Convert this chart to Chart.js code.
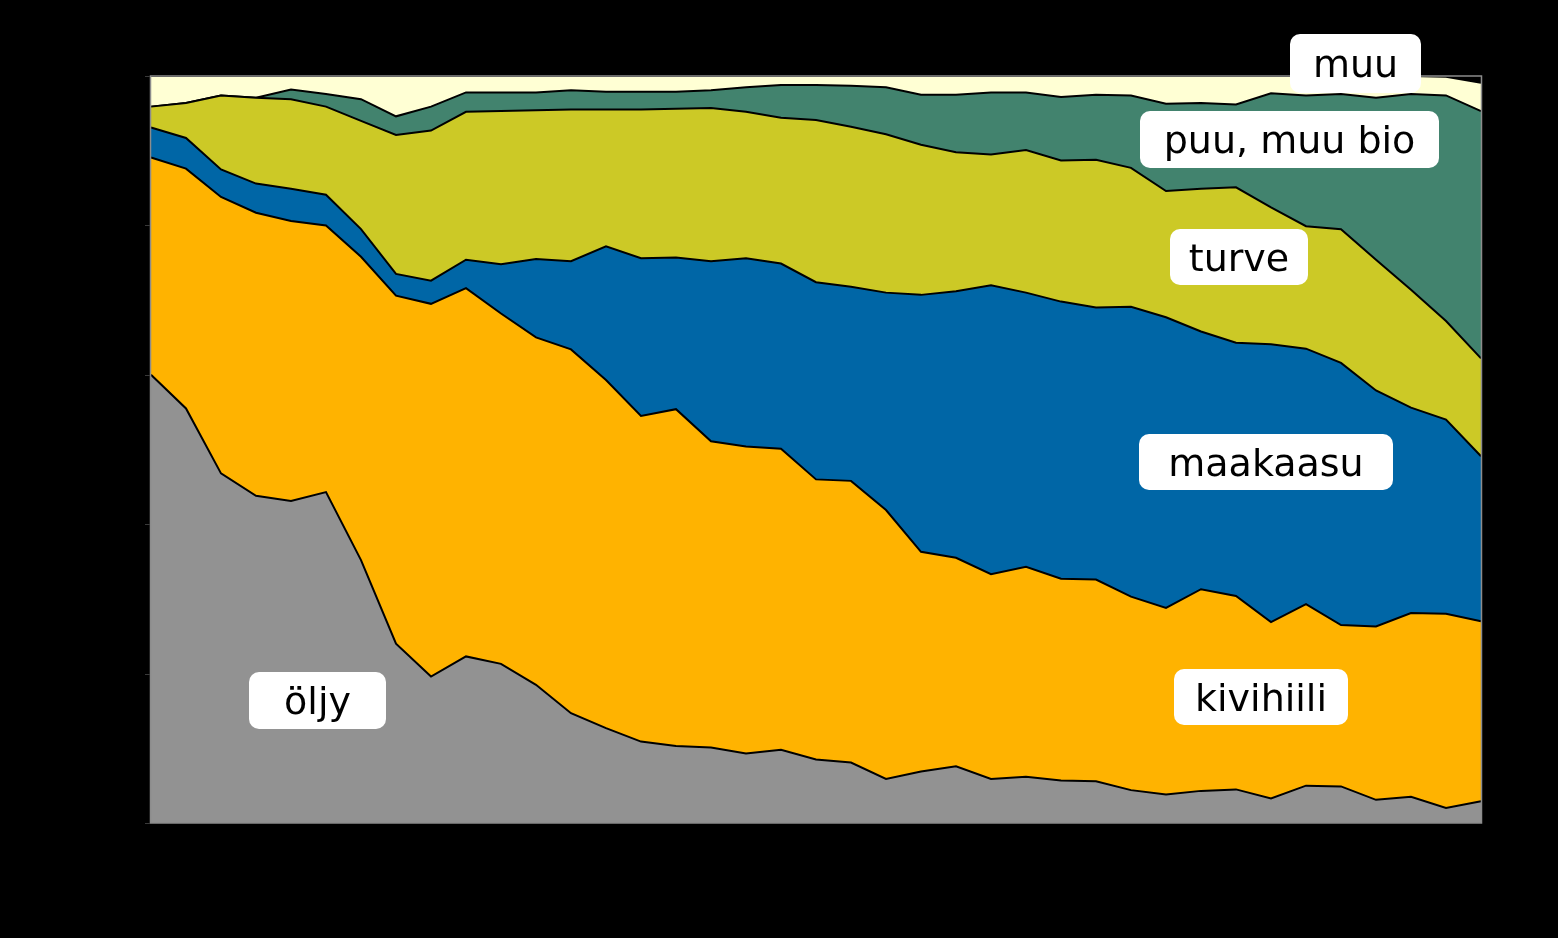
<!DOCTYPE html>
<html>
<head>
<meta charset="utf-8">
<script src="https://cdn.jsdelivr.net/npm/chart.js@4.4.1/dist/chart.umd.min.js"></script>
<style>
  html, body { margin: 0; padding: 0; background: #000; }
  #c { display: block; }
</style>
</head>
<body>
<canvas id="c" width="1558" height="938"></canvas>
<script>
// ---- data (shares, % of total) ----
const years = ['1970','1971','1972','1973','1974','1975','1976','1977','1978','1979',
               '1980','1981','1982','1983','1984','1985','1986','1987','1988','1989',
               '1990','1991','1992','1993','1994','1995','1996','1997','1998','1999',
               '2000','2001','2002','2003','2004','2005','2006','2007','2008'];
const oljy      = [60.0,55.5,46.8,43.8,43.1,44.3,35.2,24.0,19.6,22.3,21.3,18.5,14.7,12.7,10.9,10.3,10.1,9.3,9.8,8.5,8.1,5.9,6.9,7.6,5.9,6.2,5.7,5.6,4.4,3.8,4.3,4.5,3.3,5.0,4.9,3.1,3.5,2.0,2.9];
const kivihiili = [29.1,32.1,37.0,37.9,37.5,35.7,40.6,46.6,49.9,49.3,46.9,46.5,48.7,46.6,43.6,45.1,41.0,41.1,40.3,37.5,37.7,36.0,29.4,27.9,27.4,28.1,27.0,27.0,25.9,25.0,27.0,25.9,23.6,24.3,21.6,23.2,24.6,26.0,24.1];
const maakaasu  = [4.0,4.1,3.7,3.9,4.3,4.1,3.7,2.9,3.1,3.8,6.6,10.5,11.8,17.9,21.1,20.3,24.1,25.2,24.8,26.4,26.0,29.1,34.4,35.7,38.7,36.7,37.1,36.4,38.8,38.9,34.5,33.9,37.2,34.2,35.1,31.6,27.5,26.0,22.1];
const turve     = [2.8,4.7,9.9,11.5,12.0,11.8,14.5,18.6,20.1,19.8,20.5,19.9,20.3,18.3,19.9,19.9,20.5,19.6,19.5,21.7,21.4,21.2,20.1,18.6,17.5,19.1,18.9,19.8,18.6,16.9,19.1,20.8,18.3,16.4,17.9,17.5,15.8,13.2,13.1];
const puu       = [0,0,0,0,1.3,1.7,2.9,2.5,3.2,2.6,2.5,2.4,2.6,2.4,2.4,2.3,2.4,3.3,4.4,4.7,5.5,6.3,6.7,7.7,8.3,7.7,8.5,8.7,9.7,11.7,11.5,11.1,15.3,17.5,18.1,21.7,26.2,30.2,33.1];
const muu       = [4.1,3.6,2.6,2.9,1.8,2.4,3.1,5.4,4.1,2.2,2.2,2.2,1.9,2.1,2.1,2.1,1.9,1.5,1.2,1.2,1.3,1.5,2.5,2.5,2.2,2.2,2.8,2.5,2.6,3.7,3.6,3.8,2.3,2.6,2.4,2.9,2.4,2.5,3.8];
const yTicks    = [0, 20, 40, 60, 80, 100];

// ---- label boxes (text + box in canvas pixels) ----
const labels = [
  { text: 'muu',          x: 1290, y: 34,  w: 131, h: 59 },
  { text: 'puu, muu bio', x: 1140, y: 111, w: 299, h: 57 },
  { text: 'turve',        x: 1170, y: 229, w: 138, h: 56 },
  { text: 'maakaasu',     x: 1139, y: 434, w: 254, h: 56 },
  { text: 'kivihiili',    x: 1174, y: 669, w: 174, h: 56 },
  { text: 'öljy',         x: 249,  y: 672, w: 137, h: 57 }
];

function ds(label, data, color, fill) {
  return {
    label, data,
    backgroundColor: color,
    borderColor: '#000',
    borderWidth: 2,
    pointRadius: 0,
    tension: 0,
    fill: fill
  };
}

const frame = {
  id: 'frame',
  beforeDraw(chart) {
    const c = chart.ctx;
    c.save();
    c.fillStyle = '#000';
    c.fillRect(0, 0, chart.width, chart.height);
    c.restore();
  },
  afterDatasetsDraw(chart) {
    const c = chart.ctx, a = chart.chartArea, y = chart.scales.y;
    c.save();
    c.strokeStyle = '#8c8c8c';
    c.lineWidth = 1.5;
    c.strokeRect(a.left - 0.5, a.top, a.right - a.left + 1, a.bottom - a.top);
    c.strokeStyle = '#3a3a3a';
    c.lineWidth = 1;
    yTicks.forEach(v => {
      const py = Math.round(y.getPixelForValue(v)) + 0.5;
      c.beginPath();
      c.moveTo(a.left - 6, py);
      c.lineTo(a.left - 1, py);
      c.stroke();
    });
    c.restore();
  },
  afterDraw(chart) {
    const c = chart.ctx;
    c.save();
    c.font = '38px "DejaVu Sans"';
    c.textAlign = 'center';
    c.textBaseline = 'middle';
    labels.forEach(l => {
      c.fillStyle = '#fff';
      c.beginPath();
      c.roundRect(l.x, l.y, l.w, l.h, 10);
      c.fill();
      c.fillStyle = '#000';
      c.fillText(l.text, l.x + l.w / 2, l.y + l.h / 2 + 4);
    });
    c.restore();
  }
};

new Chart(document.getElementById('c'), {
  type: 'line',
  data: {
    labels: years,
    datasets: [
      ds('öljy', oljy, '#929292', 'origin'),
      ds('kivihiili', kivihiili, '#FFB300', '-1'),
      ds('maakaasu', maakaasu, '#0066A6', '-1'),
      ds('turve', turve, '#CCC926', '-1'),
      ds('puu, muu bio', puu, '#42836E', '-1'),
      ds('muu', muu, '#FFFFD4', '-1')
    ]
  },
  options: {
    responsive: false,
    animation: false,
    devicePixelRatio: 1,
    layout: { padding: { left: 151, right: 77, top: 76, bottom: 115 } },
    plugins: { legend: { display: false }, tooltip: { enabled: false } },
    scales: {
      x: { display: false, offset: false },
      y: { display: false, stacked: true, min: 0, max: 100 }
    }
  },
  plugins: [frame]
});
</script>
</body>
</html>
